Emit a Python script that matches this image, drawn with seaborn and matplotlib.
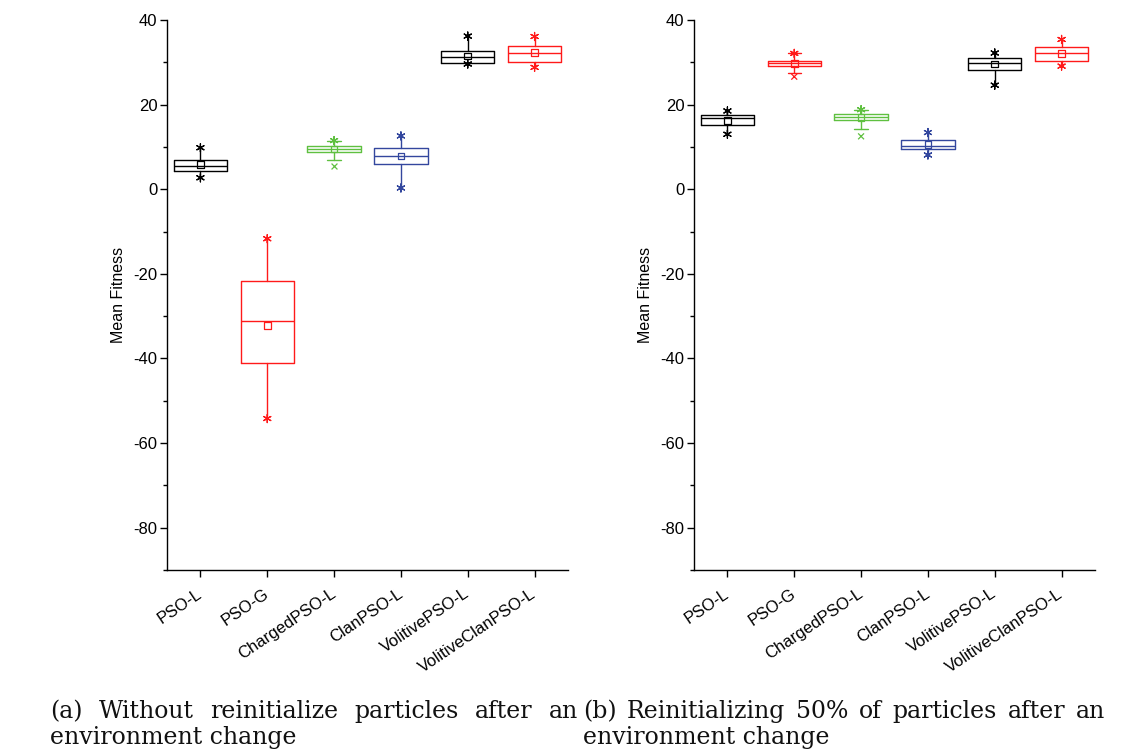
import matplotlib
matplotlib.use("Agg")
import matplotlib.pyplot as plt
import pandas as pd
import seaborn as sns
from matplotlib.ticker import MultipleLocator

# Data
methods = ['PSO-L', 'PSO-G', 'ChargedPSO-L', 'ClanPSO-L', 'VolitivePSO-L', 'VolitiveClanPSO-L']
colors = ['#000000', '#ff1a1a', '#5fc040', '#33479e', '#000000', '#ff1a1a']

# (a) without reinitialization
a_q1 = [4.4, -41.1, 8.75, 5.9, 29.9, 30.0]
a_med = [5.6, -31.2, 9.5, 7.8, 31.3, 32.1]
a_q3 = [6.8, -21.7, 10.2, 9.85, 32.6, 33.8]
a_mean = [5.8, -32.2, 9.5, 7.8, 31.5, 32.3]
a_whislo = [2.7, -54.2, 7.0, 0.3, 29.6, 28.8]
a_whishi = [9.8, -11.7, 11.5, 12.6, 36.2, 36.1]
a_min = [2.7, -54.2, 5.4, 0.3, 29.6, 28.8]

# (b) reinitializing 50% of particles
b_q1 = [15.1, 29.1, 16.3, 9.4, 28.1, 30.4]
b_med = [16.8, 29.9, 17.1, 10.2, 29.8, 32.3]
b_q3 = [17.5, 30.3, 17.9, 11.7, 31.0, 33.6]
b_mean = [16.3, 29.7, 16.9, 10.6, 29.6, 32.1]
b_whislo = [13.0, 27.4, 14.3, 8.1, 24.6, 29.1]
b_whishi = [18.5, 32.1, 18.8, 13.4, 32.2, 35.4]
b_min = [13.0, 26.6, 12.5, 8.1, 24.6, 29.1]

caption_a = ['(a) Without reinitialize particles after an', 'environment change']
caption_b = ['(b) Reinitializing 50% of particles after an', 'environment change']

sns.set_theme(style='ticks')
plt.rcParams['font.family'] = ['Liberation Sans', 'DejaVu Sans']
plt.rcParams['axes.unicode_minus'] = False
plt.rcParams['text.color'] = 'black'
plt.rcParams['axes.labelcolor'] = 'black'
plt.rcParams['xtick.color'] = 'black'
plt.rcParams['ytick.color'] = 'black'

W, H = 1145, 756
fig = plt.figure(figsize=(W / 100, H / 100), dpi=100)
star = (6, 2, 0)


def draw_panel(ax, q1, med, q3, mean, whislo, whishi, mins):
    pos = list(range(1, len(methods) + 1))
    # boxes from summary statistics, one per colour
    for i, p in enumerate(pos):
        c = colors[i]
        stats = [dict(q1=q1[i], med=med[i], q3=q3[i], whislo=whislo[i], whishi=whishi[i], fliers=[])]
        lp = dict(color=c, linewidth=1.0)
        ax.bxp(stats, positions=[p], widths=0.8, showcaps=mins[i] < whislo[i],
               boxprops=lp, medianprops=lp, whiskerprops=lp,
               capprops=dict(color=c, linewidth=1.0), capwidths=0.2, manage_ticks=False)

    df = pd.DataFrame({'pos': pos, 'method': methods, 'mean': mean,
                       'hi': whishi, 'lo': whislo, 'min': mins})
    pal = dict(zip(methods, colors))

    # mean squares
    sns.scatterplot(data=df, x='pos', y='mean', hue='method', palette=pal, marker='s',
                    s=22, legend=False, ax=ax, zorder=5)
    coll = ax.collections[-1]
    coll.set_edgecolors(coll.get_facecolors())
    coll.set_facecolors('none')
    coll.set_linewidth(0.9)

    # max / min stars
    sns.scatterplot(data=df, x='pos', y='hi', hue='method', palette=pal, marker=star,
                    s=34, linewidth=0.9, legend=False, ax=ax, zorder=5)
    low = df[df['min'] >= df['lo']]
    sns.scatterplot(data=low, x='pos', y='min', hue='method', palette=pal, marker=star,
                    s=34, linewidth=0.9, legend=False, ax=ax, zorder=5)
    out = df[df['min'] < df['lo']]
    sns.scatterplot(data=out, x='pos', y='min', hue='method', palette=pal, marker='x',
                    s=18, linewidth=0.9, legend=False, ax=ax, zorder=5)

    ax.set_xlim(0.5, 6.5)
    ax.set_ylim(-90, 40)
    ax.yaxis.set_major_locator(MultipleLocator(20))
    ax.yaxis.set_minor_locator(MultipleLocator(10))
    ax.set_xticks(pos)
    ax.set_xticklabels(methods, rotation=34, ha='right', va='center', rotation_mode='anchor',
                       fontsize=12)
    ax.tick_params(axis='y', labelsize=12, length=5, width=1, color='black', pad=2)
    ax.tick_params(axis='y', which='minor', length=3, width=1, color='black', left=True)
    ax.tick_params(axis='x', length=5, width=1, color='black', pad=11)
    ax.set_xlabel('')
    ax.set_ylabel('Mean Fitness', fontsize=11.5, labelpad=5)
    for s in ['left', 'bottom']:
        ax.spines[s].set_color('black')
        ax.spines[s].set_linewidth(1.0)
    sns.despine(ax=ax)


ax_a = fig.add_axes([167 / W, 1 - 570 / H, 401 / W, 550 / H])
ax_b = fig.add_axes([694 / W, 1 - 570 / H, 401 / W, 550 / H])
draw_panel(ax_a, a_q1, a_med, a_q3, a_mean, a_whislo, a_whishi, a_min)
draw_panel(ax_b, b_q1, b_med, b_q3, b_mean, b_whislo, b_whishi, b_min)


def justify(line, x0, x1, y, **kw):
    words = line.split(' ')
    texts = [fig.text(0, 1 - y / H, w, va='baseline', **kw) for w in words]
    r = fig.canvas.get_renderer()
    widths = [t.get_window_extent(r).width for t in texts]
    gap = (x1 - x0 - sum(widths)) / (len(words) - 1)
    x = x0
    for t, w in zip(texts, widths):
        t.set_x(x / W)
        x += w + gap


cap_kw = dict(family=['DejaVu Serif'], fontsize=17, color='#111111')
fig.canvas.draw()
justify(caption_a[0], 50, 578, 718, **cap_kw)
fig.text(50 / W, 1 - 744 / H, caption_a[1], va='baseline', **cap_kw)
justify(caption_b[0], 583, 1105, 718, **cap_kw)
fig.text(583 / W, 1 - 744 / H, caption_b[1], va='baseline', **cap_kw)

fig.savefig('out.png', dpi=100, facecolor='white')
